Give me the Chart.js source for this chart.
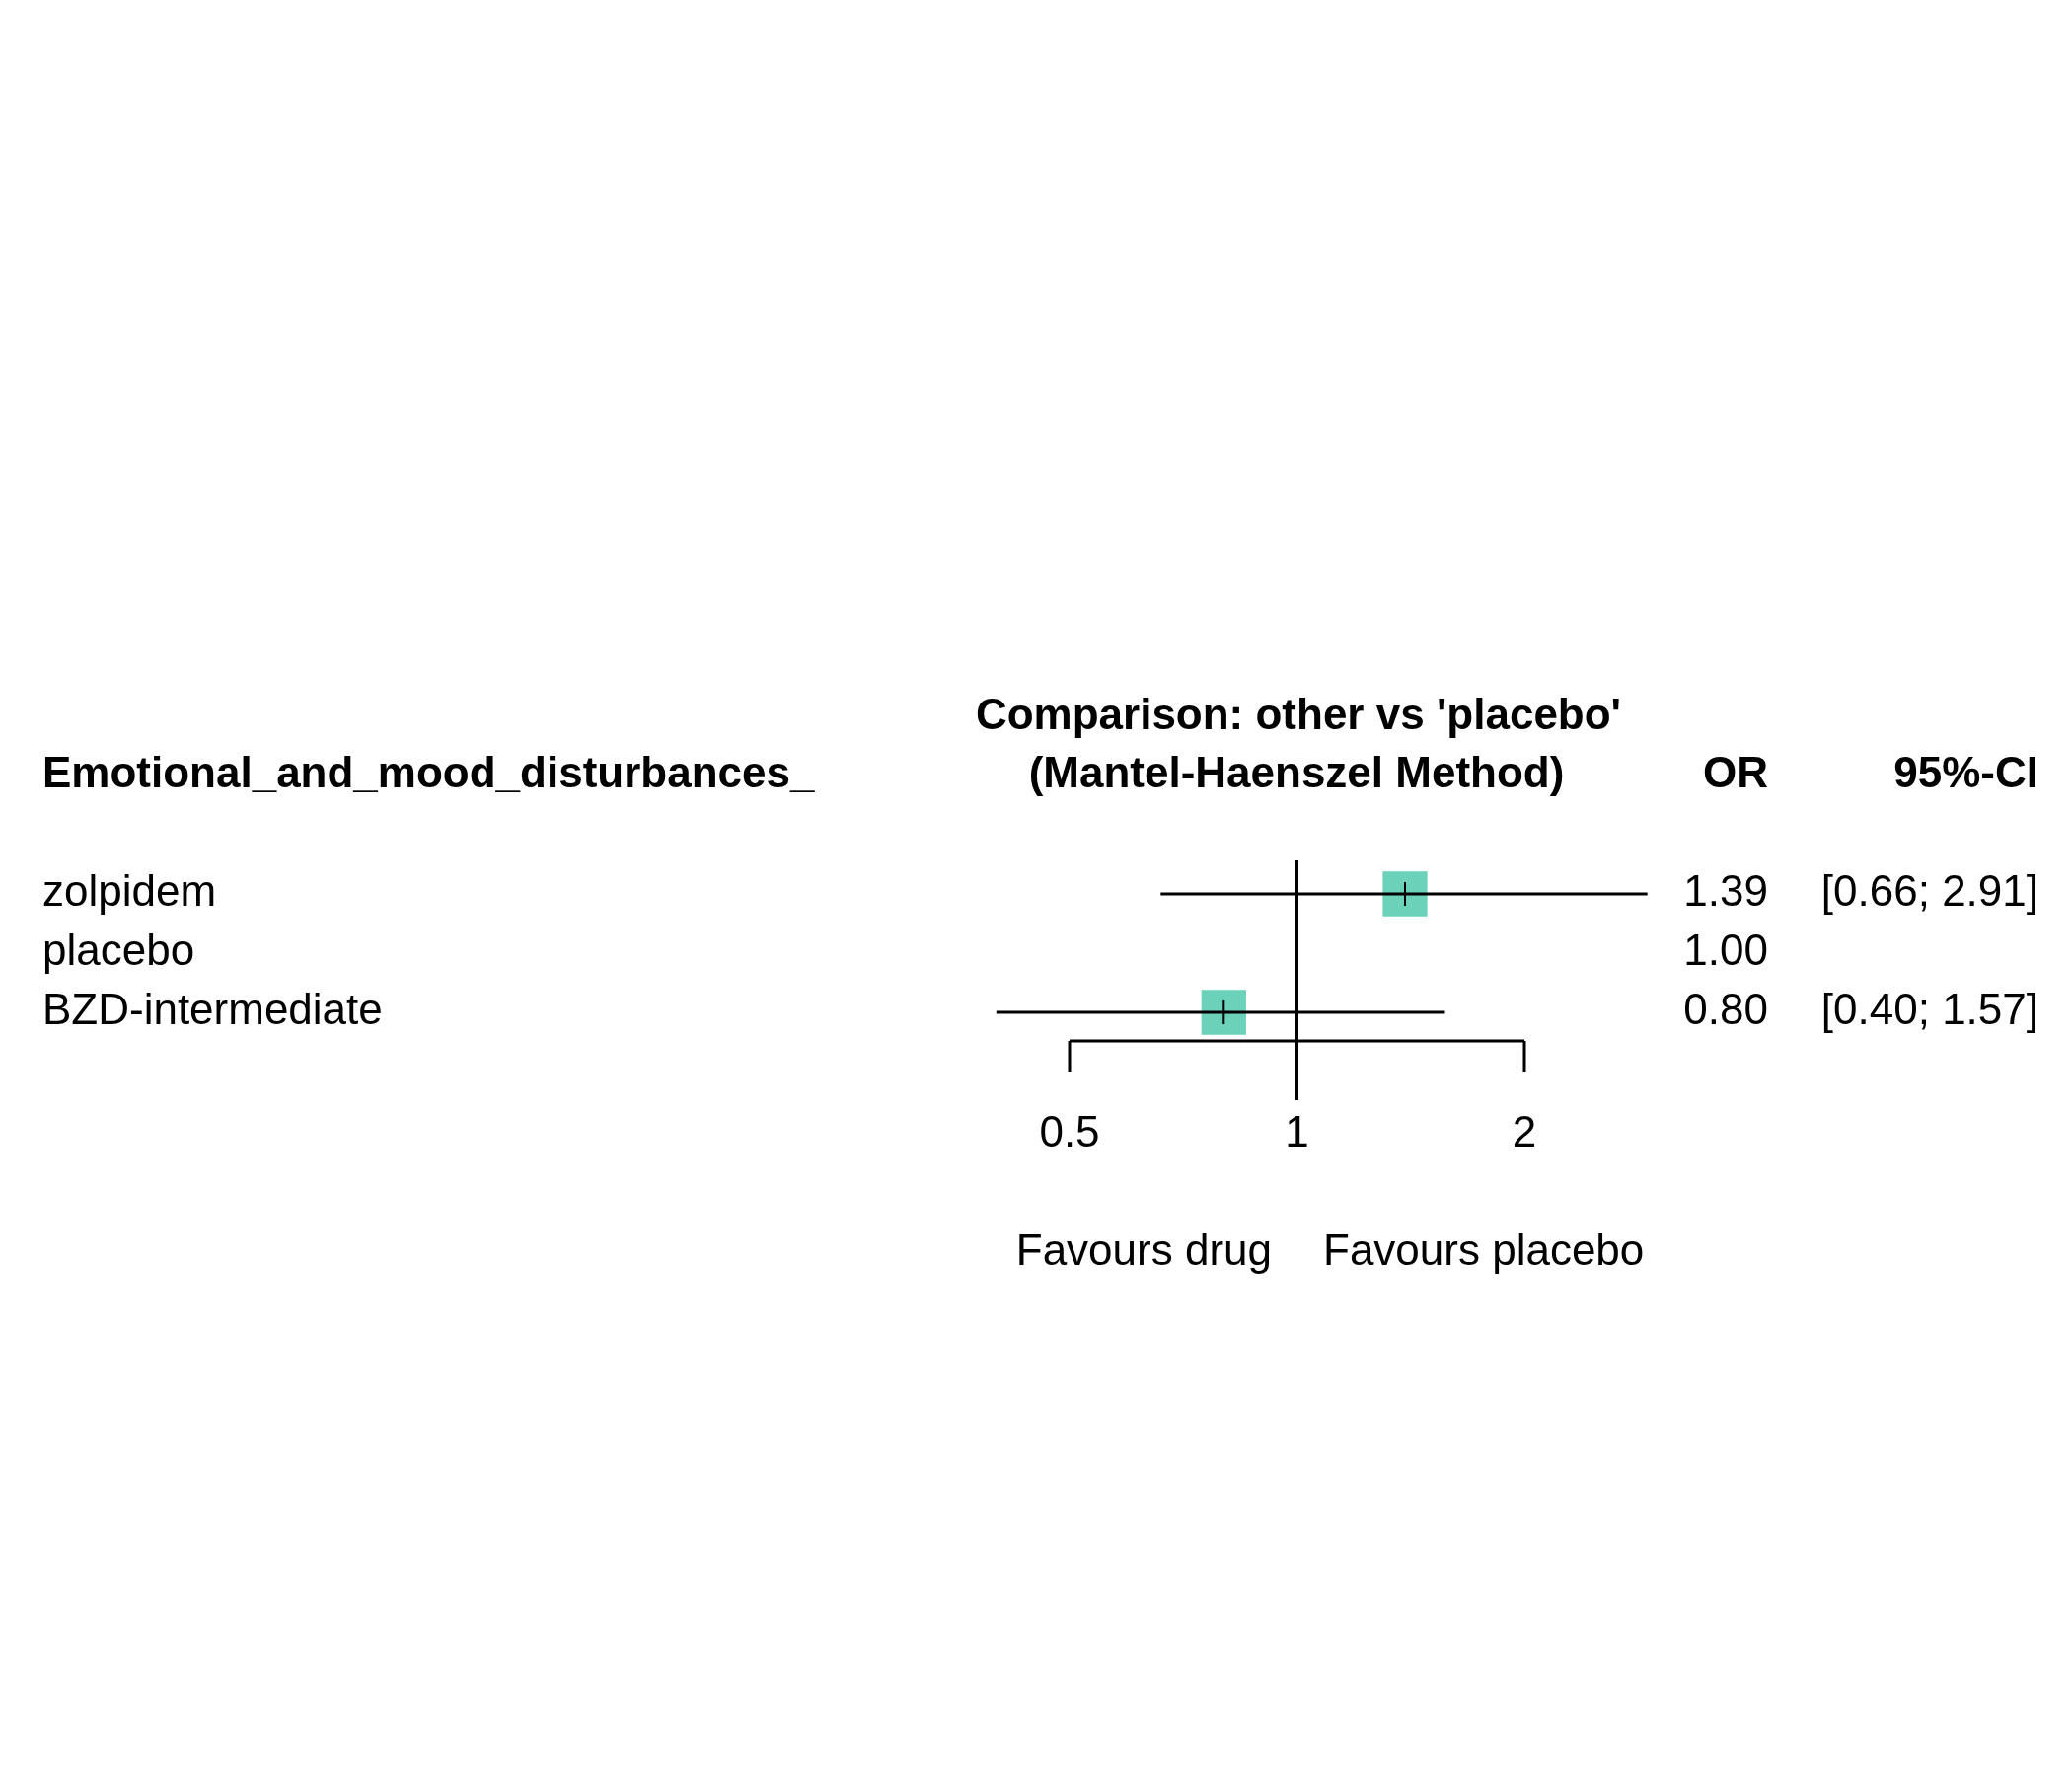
<!DOCTYPE html>
<html lang="en">
<head>
    <meta charset="UTF-8">
    <title>Forest plot</title>
    <script src="https://cdn.jsdelivr.net/npm/chart.js"></script>
    <style>
        body { margin: 0; background: #fff; }
        #forest { display: block; }
    </style>
</head>
<body>
    <canvas id="forest" width="2100" height="1800"></canvas>
    <script>
        // data
        var treatments = ['zolpidem', 'placebo', 'BZD-intermediate'];
        var oddsRatio = [1.39, 1.00, 0.80];
        var ciLower = [0.66, null, 0.40];
        var ciUpper = [2.91, null, 1.57];
        var orLabels = ['1.39', '1.00', '0.80'];
        var ciLabels = ['[0.66; 2.91]', '', '[0.40; 1.57]'];
        var showBox = [true, false, true];
        var tickValues = [0.5, 1, 2];
        var tickLabels = ['0.5', '1', '2'];

        var FONT = '"Liberation Sans", Arial, sans-serif';
        var boxColor = '#6bd1b9';

        var points = [];
        treatments.forEach(function (t, i) {
            if (showBox[i]) points.push({ x: oddsRatio[i], y: i + 1 });
        });

        var forestPlugin = {
            id: 'forest',
            afterDatasetsDraw: function (chart) {
                var ctx = chart.ctx;
                var xs = chart.scales.x, ys = chart.scales.y;
                var x1 = xs.getPixelForValue(1);
                ctx.save();
                ctx.strokeStyle = '#000';
                ctx.lineWidth = 3;

                // reference line at OR = 1
                ctx.beginPath();
                ctx.moveTo(x1, 872);
                ctx.lineTo(x1, 1115);
                ctx.stroke();

                // confidence intervals and centre ticks
                treatments.forEach(function (t, i) {
                    var y = ys.getPixelForValue(i + 1);
                    if (ciLower[i] !== null) {
                        ctx.beginPath();
                        ctx.moveTo(xs.getPixelForValue(ciLower[i]), y);
                        ctx.lineTo(xs.getPixelForValue(ciUpper[i]), y);
                        ctx.stroke();
                        var xc = xs.getPixelForValue(oddsRatio[i]);
                        ctx.lineWidth = 2;
                        ctx.beginPath();
                        ctx.moveTo(xc, y - 12);
                        ctx.lineTo(xc, y + 12);
                        ctx.stroke();
                        ctx.lineWidth = 3;
                    }
                });

                // bottom axis
                var xa = xs.getPixelForValue(tickValues[0]);
                var xb = xs.getPixelForValue(tickValues[tickValues.length - 1]);
                ctx.beginPath();
                ctx.moveTo(xa, 1055);
                ctx.lineTo(xb, 1055);
                ctx.stroke();
                ctx.fillStyle = '#000';
                ctx.font = '44px ' + FONT;
                ctx.textAlign = 'center';
                ctx.textBaseline = 'middle';
                tickValues.forEach(function (v, i) {
                    var px = xs.getPixelForValue(v);
                    ctx.beginPath();
                    ctx.moveTo(px, 1055);
                    ctx.lineTo(px, 1086);
                    ctx.stroke();
                    ctx.fillText(tickLabels[i], px, 1150);
                });

                // favours labels
                ctx.textAlign = 'right';
                ctx.fillText('Favours drug', 1289, 1270);
                ctx.textAlign = 'left';
                ctx.fillText('Favours placebo', 1341, 1270);

                // row labels and numbers
                treatments.forEach(function (t, i) {
                    var y = ys.getPixelForValue(i + 1);
                    ctx.textAlign = 'left';
                    ctx.fillText(t, 43, y);
                    ctx.textAlign = 'right';
                    ctx.fillText(orLabels[i], 1792, y);
                    ctx.fillText(ciLabels[i], 2066, y);
                });

                // headers
                ctx.font = 'bold 44px ' + FONT;
                ctx.textAlign = 'left';
                ctx.fillText('Emotional_and_mood_disturbances_', 43, 786);
                ctx.textAlign = 'center';
                ctx.fillText("Comparison: other vs 'placebo'", 1316, 727);
                ctx.fillText('(Mantel-Haenszel Method)', 1314, 786);
                ctx.textAlign = 'right';
                ctx.fillText('OR', 1792, 786);
                ctx.fillText('95%-CI', 2066, 786);
                ctx.restore();
            }
        };

        var chart = new Chart(document.getElementById('forest').getContext('2d'), {
            type: 'scatter',
            data: {
                datasets: [{
                    data: points,
                    pointStyle: 'rect',
                    pointRadius: 32,
                    pointHoverRadius: 32,
                    backgroundColor: boxColor,
                    borderColor: boxColor,
                    borderWidth: 0,
                    clip: false
                }]
            },
            options: {
                responsive: false,
                animation: false,
                events: [],
                layout: { padding: { left: 1084, right: 555, top: 876, bottom: 744 } },
                plugins: { legend: { display: false }, tooltip: { enabled: false } },
                scales: {
                    x: { type: 'logarithmic', min: 0.5, max: 2, display: false },
                    y: { type: 'linear', min: 0.5, max: 3.5, reverse: true, display: false }
                }
            },
            plugins: [forestPlugin]
        });
    </script>
</body>
</html>
